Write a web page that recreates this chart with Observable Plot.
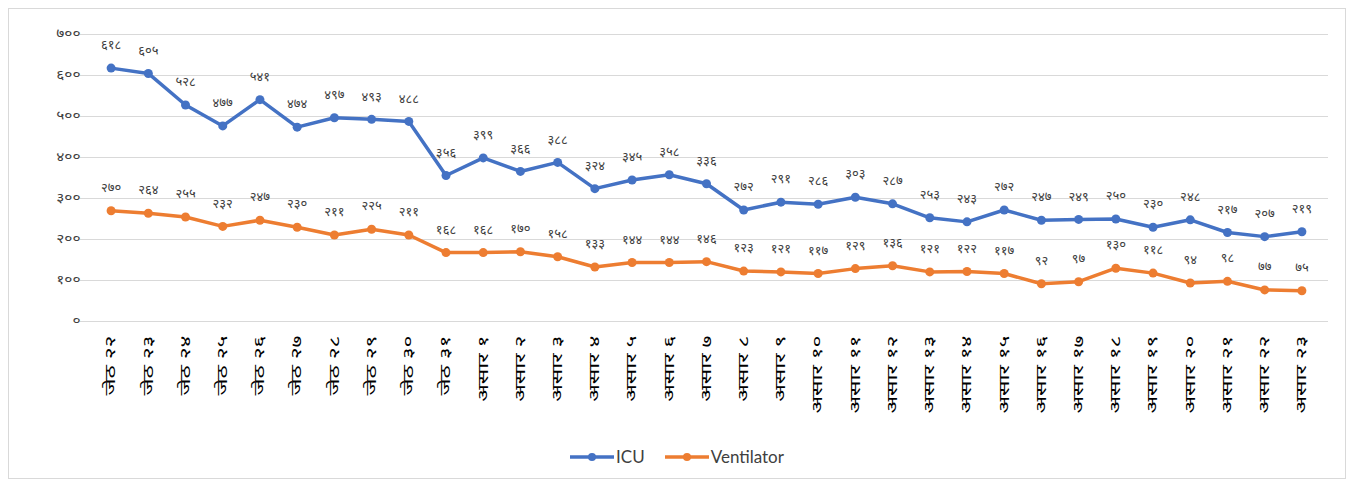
<!DOCTYPE html>
<html>
<head>
<meta charset="utf-8">
<script src="https://cdn.jsdelivr.net/npm/d3@7"></script>
<script src="https://cdn.jsdelivr.net/npm/@observablehq/plot@0.6"></script>
<style>
  html, body { margin: 0; padding: 0; background: #fff; }
  #frame { position: absolute; left: 8px; top: 8px; width: 1336px; height: 469px; border: 1px solid #d9d9d9; background: #fff; }
  #legend { position: absolute; left: 0; right: 0; top: 437px; display: flex; justify-content: center; gap: 20px; font-family: Lato, "Open Sans", sans-serif; font-size: 17px; color: #404040; }
  .item { display: flex; align-items: center; gap: 2px; }
</style>
</head>
<body>
<div id="frame">
  <div id="chart"></div>
  <div id="legend"></div>
</div>
<script>
const categories = ["जेठ २२","जेठ २३","जेठ २४","जेठ २५","जेठ २६","जेठ २७","जेठ २८","जेठ २९","जेठ ३०","जेठ ३१",
  "असार १","असार २","असार ३","असार ४","असार ५","असार ६","असार ७","असार ८","असार ९","असार १०",
  "असार ११","असार १२","असार १३","असार १४","असार १५","असार १६","असार १७","असार १८","असार १९","असार २०",
  "असार २१","असार २२","असार २३"];
const icu = [618,605,528,477,541,474,497,493,488,356,399,366,388,324,345,358,336,272,291,286,303,287,253,243,272,247,249,250,230,248,217,207,219];
const ventilator = [270,264,255,232,247,230,211,225,211,168,168,170,158,133,144,144,146,123,121,117,129,136,121,122,117,92,97,130,118,94,98,77,75];
const yTicks = [0,100,200,300,400,500,600,700];
const seriesNames = ["ICU","Ventilator"];
const colors = ["#4472C4","#ED7D31"];

const devDigits = "०१२३४५६७८९";
const toDev = n => String(n).replace(/[0-9]/g, d => devDigits[+d]);

const data = [];
categories.forEach((c, i) => {
  data.push({cat: c, series: "ICU", value: icu[i]});
  data.push({cat: c, series: "Ventilator", value: ventilator[i]});
});

const font = "Lato, 'Noto Sans', sans-serif";
const chart = Plot.plot({
  width: 1336,
  height: 420,
  marginLeft: 83,
  marginRight: 25,
  marginTop: 25,
  marginBottom: 108,
  style: {fontFamily: font, background: "transparent"},
  x: {type: "point", domain: categories, padding: 0.5, round: false, label: null},
  y: {domain: [0, 700], label: null},
  color: {domain: seriesNames, range: colors},
  marks: [
    Plot.ruleY(yTicks, {stroke: "#d9d9d9", strokeWidth: 1, insetLeft: -12, insetRight: -8}),
    Plot.axisY({ticks: yTicks, tickSize: 0, tickPadding: 12, tickFormat: toDev, fontSize: 12, fill: "#404040", label: null, className: "yax"}),
    Plot.axisX({tickSize: 0, tickPadding: 14, tickRotate: -90, fontSize: 13.5, fill: "#000", label: null, className: "xax"}),
    Plot.line(data, {x: "cat", y: "value", z: "series", stroke: "series", strokeWidth: 3.5}),
    Plot.dot(data, {x: "cat", y: "value", fill: "series", r: 4.5}),
    Plot.text(data, {x: "cat", y: "value", text: d => toDev(d.value), dy: -23, fontSize: 13, fill: "#404040"})
  ]
});
// stretch tick labels along their reading direction to match the reference glyph proportions
chart.querySelectorAll(".xax text").forEach(t => {
  const tr = t.getAttribute("transform") || "";
  t.setAttribute("transform", tr + " scale(1.7,1)");
});
chart.querySelectorAll(".yax text").forEach(t => {
  const tr = t.getAttribute("transform") || "";
  t.setAttribute("transform", tr + " scale(1.3,1)");
});
document.getElementById("chart").appendChild(chart);

const legend = document.getElementById("legend");
seriesNames.forEach((s, i) => {
  const item = document.createElement("div");
  item.className = "item";
  item.innerHTML = `<svg width="44" height="12"><line x1="0" y1="6" x2="44" y2="6" stroke="${colors[i]}" stroke-width="3.5"/><circle cx="22" cy="6" r="4" fill="${colors[i]}"/></svg><span>${s}</span>`;
  legend.appendChild(item);
});
</script>
</body>
</html>
